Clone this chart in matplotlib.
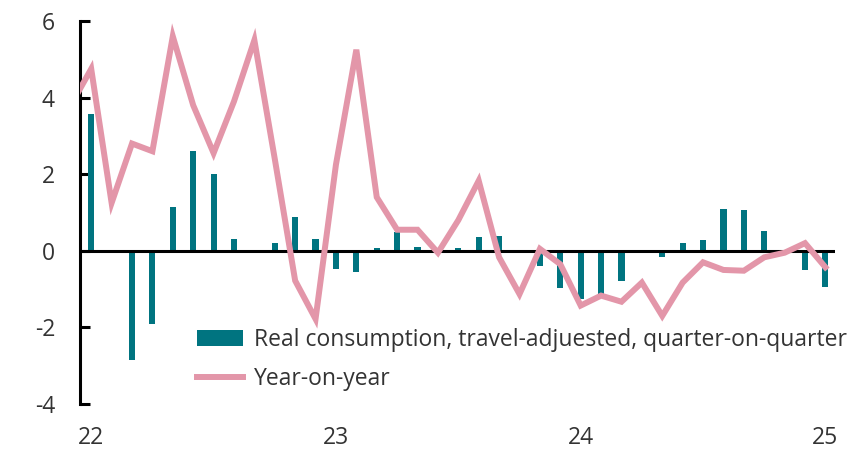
import matplotlib
matplotlib.use("Agg")
import matplotlib.pyplot as plt
import numpy as np

# Monthly data, Dec 2021 .. Jan 2025 (index -1 .. 36)
months = list(range(-1, 37))
qoq = [np.nan,
       3.57, -0.05, -2.85, -1.9, 1.15, 2.6, 2.0, 0.3, -0.05, 0.2, 0.87, 0.3,
       -0.47, -0.55, 0.08, 0.5, 0.1, 0.0, 0.08, 0.37, 0.39, 0.0, -0.39, -0.97,
       -1.25, -1.13, -0.78, 0.0, -0.15, 0.2, 0.27, 1.09, 1.07, 0.52, 0.0, -0.5,
       -0.94]
yoy = [3.8,
       4.75, 1.25, 2.8, 2.6, 5.6, 3.8, 2.55, 3.9, 5.5, 2.4, -0.78, -1.78,
       2.25, 5.25, 1.4, 0.55, 0.55, -0.05, 0.8, 1.83, -0.17, -1.13, 0.05, -0.35,
       -1.43, -1.17, -1.33, -0.83, -1.7, -0.83, -0.3, -0.5, -0.52, -0.17, -0.05, 0.2,
       -0.43]
xtick_pos = [0, 12, 24, 36]
xtick_labels = ["22", "23", "24", "25"]
yticks = [-4, -2, 0, 2, 4, 6]

plt.rcParams['font.family'] = ['Open Sans', 'DejaVu Sans']

fig = plt.figure(figsize=(8.67, 4.5), dpi=100)
ax = fig.add_axes([80/867, 1-404/450, (835-80)/867, (404-21)/450])

bar_color = "#007480"
line_color = "#E396A9"

bars = ax.bar(months, qoq, width=0.3, color=bar_color,
              label="Real consumption, travel-adjuested, quarter-on-quarter", zorder=2)
ax.axhline(0, color="black", lw=2.2, zorder=3)
line, = ax.plot(months, yoy, color=line_color, lw=4.3, label="Year-on-year",
                solid_joinstyle="miter", zorder=4)

ax.set_xlim(-0.55, 36.47)
ax.set_ylim(-4, 6)
ax.set_yticks(yticks)
ax.set_yticklabels([str(v) for v in yticks])
ax.set_xticks(xtick_pos)
ax.set_xticklabels(xtick_labels)

for s in ["top", "right", "bottom"]:
    ax.spines[s].set_visible(False)
ax.spines["left"].set_linewidth(2.2)
ax.spines["left"].set_color("black")

ax.tick_params(axis="y", direction="in", length=7, width=2.2, pad=18,
               labelsize=16.5, labelcolor="#333333")
ax.tick_params(axis="x", length=0, pad=16, labelsize=16.5, labelcolor="#333333")

leg = ax.legend(handles=[bars, line],
                loc="upper left", bbox_to_anchor=((197-80)/755, (404-328)/383),
                frameon=False, fontsize=16.5, borderpad=0, borderaxespad=0,
                handlelength=2.0, handletextpad=0.5, labelspacing=0.67)
for t in leg.get_texts():
    t.set_color("#333333")

fig.savefig("out.png", dpi=100)
